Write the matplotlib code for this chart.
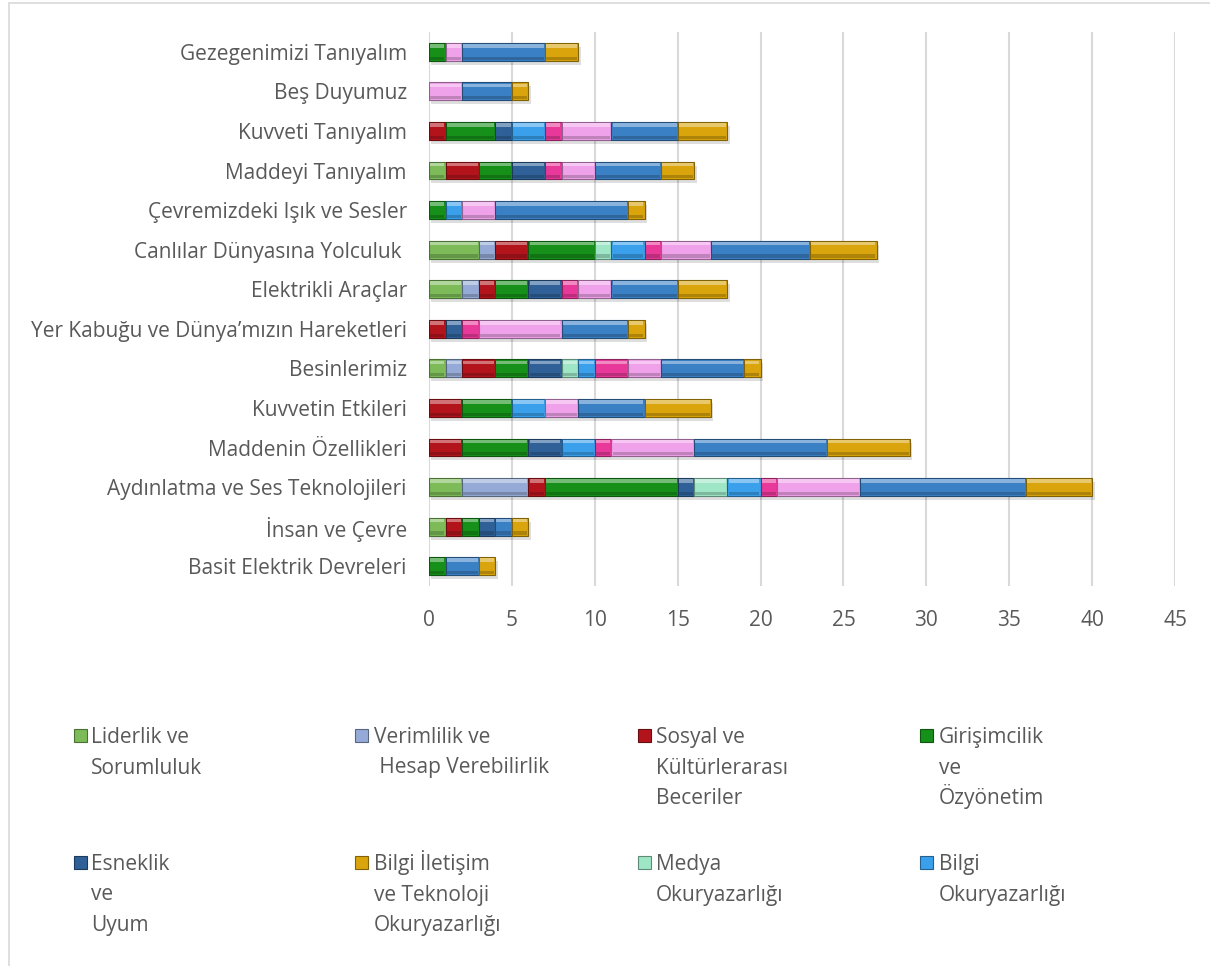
import numpy as np
import matplotlib.pyplot as plt
from matplotlib.colors import to_rgb
from matplotlib.patches import Rectangle

plt.rcParams['font.family'] = ['Open Sans', 'DejaVu Sans']

# Üniteler (yukarıdan aşağıya)
uniteler = ["Gezegenimizi Tanıyalım", "Beş Duyumuz", "Kuvveti Tanıyalım",
            "Maddeyi Tanıyalım", "Çevremizdeki Işık ve Sesler",
            "Canlılar Dünyasına Yolculuk ", "Elektrikli Araçlar",
            "Yer Kabuğu ve Dünya’mızın Hareketleri", "Besinlerimiz",
            "Kuvvetin Etkileri", "Maddenin Özellikleri",
            "Aydınlatma ve Ses Teknolojileri", "İnsan ve Çevre",
            "Basit Elektrik Devreleri"]

# Beceri serileri (çubuktaki sırayla)
liderlik   = [0, 0, 0, 1, 0, 3, 2, 0, 1, 0, 0, 2, 1, 0]
verimlilik = [0, 0, 0, 0, 0, 1, 1, 0, 1, 0, 0, 4, 0, 0]
sosyal     = [0, 0, 1, 2, 0, 2, 1, 1, 2, 2, 2, 1, 1, 0]
girisim    = [1, 0, 3, 2, 1, 4, 2, 0, 2, 3, 4, 8, 1, 1]
esneklik   = [0, 0, 1, 2, 0, 0, 2, 1, 2, 0, 2, 1, 1, 0]
medya      = [0, 0, 0, 0, 0, 1, 0, 0, 1, 0, 0, 2, 0, 0]
bilgi_ok   = [0, 0, 2, 0, 1, 2, 0, 0, 1, 2, 2, 2, 0, 0]
yaraticilik = [0, 0, 1, 1, 0, 1, 1, 1, 2, 0, 1, 1, 0, 0]
elestirel  = [1, 2, 3, 2, 2, 3, 2, 5, 2, 2, 5, 5, 0, 0]
iletisim   = [5, 3, 4, 4, 8, 6, 4, 4, 5, 4, 8, 10, 1, 2]
bit_ok     = [2, 1, 3, 2, 1, 4, 3, 1, 1, 4, 5, 4, 1, 1]

seriler = [
    ("Liderlik ve\nSorumluluk", liderlik, "#7cbb58"),
    ("Verimlilik ve\n Hesap Verebilirlik", verimlilik, "#95aad6"),
    ("Sosyal ve\nKültürlerarası\nBeceriler", sosyal, "#b3141c"),
    ("Girişimcilik\nve\nÖzyönetim", girisim, "#17901a"),
    ("Esneklik\nve\nUyum", esneklik, "#2f6198"),
    ("Medya\nOkuryazarlığı", medya, "#9ee6c6"),
    ("Bilgi\nOkuryazarlığı", bilgi_ok, "#3aa0ec"),
    ("Yaratıcılık ve Yenilikçilik", yaraticilik, "#e8399a"),
    ("Eleştirel Düşünme ve Problem Çözme", elestirel, "#efa2ea"),
    ("İletişim ve İş Birliği", iletisim, "#3a80c4"),
    ("Bilgi İletişim\nve Teknoloji\nOkuryazarlığı", bit_ok, "#d9a40c"),
]

# lejantta görünen seriler (satır satır)
lejant_sira = [0, 1, 2, 3, 4, 10, 5, 6]


def acik(renk, k):
    r = np.array(to_rgb(renk))
    return tuple(r + (1 - r) * k)


def koyu(renk, k):
    return tuple(np.array(to_rgb(renk)) * k)


W, H = 1210, 966
fig = plt.figure(figsize=(W / 100, H / 100), dpi=100)
ax = fig.add_axes([429 / W, 1 - 586 / H, 746 / W, 554 / H])

y = np.arange(len(uniteler))
toplam = np.zeros(len(uniteler))
for ad, degerler, renk in seriler:
    toplam += np.array(degerler)

# gölge
ax.barh(y + 0.1, toplam, left=0.15, height=0.45, color='black', alpha=0.13, zorder=2)

sol = np.zeros(len(uniteler))
for ad, degerler, renk in seriler:
    d = np.array(degerler, dtype=float)
    m = d > 0
    ax.barh(y[m], d[m], left=sol[m], height=0.45, color=renk,
            edgecolor=koyu(renk, 0.6), linewidth=0.8, zorder=3)
    # kabartma efekti: üstte açık, altta koyu şerit
    ax.barh(y[m] - 0.15, d[m] - 0.14, left=sol[m] + 0.07, height=0.09,
            color=acik(renk, 0.4), linewidth=0, zorder=4)
    ax.barh(y[m] + 0.16, d[m] - 0.14, left=sol[m] + 0.07, height=0.08,
            color=koyu(renk, 0.8), linewidth=0, zorder=4)
    sol += d

ax.set_xlim(0, 45)
ax.set_ylim(len(uniteler) - 0.5, -0.5)
ax.set_xticks(np.arange(0, 46, 5))
ax.set_yticks(y)
ax.set_yticklabels(uniteler)
ax.tick_params(axis='both', length=0, colors='#595959', labelsize=15)
ax.tick_params(axis='y', pad=16)
ax.tick_params(axis='x', pad=17)
ax.grid(axis='x', color='#d9d9d9', linewidth=1.5, zorder=0)
ax.set_axisbelow(True)
for s in ax.spines.values():
    s.set_visible(False)

# lejant (her satır ayrı yazılıyor)
isaret_x = [74, 355, 638, 920]
yazi_x = [91, 374, 656, 939]
satir_y = [735, 862]
for i, idx in enumerate(lejant_sira):
    ad, _, renk = seriler[idx]
    k = i % 4
    y0 = satir_y[i // 4]
    fig.add_artist(Rectangle((isaret_x[k] / W, 1 - (y0 + 7) / H), 13 / W, 13 / H,
                             transform=fig.transFigure, facecolor=renk,
                             edgecolor=koyu(renk, 0.6), linewidth=0.8))
    for j, satir in enumerate(ad.split("\n")):
        fig.text(yazi_x[k] / W, 1 - (y0 + 8 + 30.5 * j) / H, satir, ha='left',
                 va='baseline', fontsize=15, color='#595959')

# grafik alanı çerçevesi
fig.add_artist(Rectangle((9 / W, -0.1), 1.2, 1.1 - 3 / H, transform=fig.transFigure,
                         fill=False, edgecolor='#d9d9d9', linewidth=1.2))

fig.savefig('out.png', dpi=100)
